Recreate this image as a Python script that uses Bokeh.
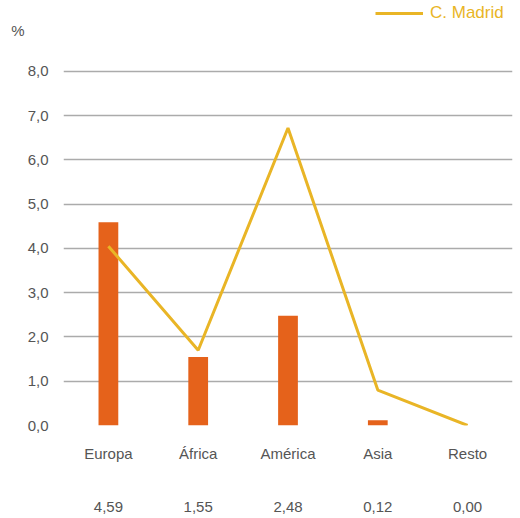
from bokeh.plotting import figure
from bokeh.models import (ColumnDataSource, FactorRange, Range1d, CategoricalAxis, LinearAxis,
                          Legend, LegendItem, FixedTicker)
from bokeh.embed import file_html
from bokeh.resources import INLINE

categories = ["Europa", "África", "América", "Asia", "Resto"]
nacionalidad = [4.59, 1.55, 2.48, 0.12, 0.00]
c_madrid = [4.05, 1.70, 6.72, 0.80, 0.00]
y_ticks = [0, 1, 2, 3, 4, 5, 6, 7, 8]
y_tick_labels = ["0,0", "1,0", "2,0", "3,0", "4,0", "5,0", "6,0", "7,0", "8,0"]
unit_label = "%"
value_labels = [f"{v:.2f}".replace(".", ",") for v in nacionalidad]

FONT = "Liberation Sans"
TEXT = "#555555"
BAR = "#E5621B"
LINE = "#E9B526"

src = ColumnDataSource(dict(cat=categories, nac=nacionalidad, mad=c_madrid))

p = figure(width=520, height=518, output_backend="svg", toolbar_location=None,
           x_range=FactorRange(*categories, range_padding=0),
           y_range=Range1d(0, 9.6),
           min_border_left=63, min_border_right=8, min_border_top=0, min_border_bottom=93)
p.outline_line_color = None
p.xgrid.grid_line_color = None
p.ygrid.grid_line_color = "#ababab"
p.ygrid.grid_line_width = 1.3
p.ygrid.ticker = FixedTicker(ticks=y_ticks)

p.vbar(x="cat", top="nac", width=0.22, source=src, fill_color=BAR, line_color=None)
r_line = p.line(x="cat", y="mad", source=src, color=LINE, line_width=3)

# y axis
p.yaxis.ticker = FixedTicker(ticks=y_ticks)
p.yaxis.major_label_overrides = {t: l for t, l in zip(y_ticks, y_tick_labels)}
p.yaxis.axis_line_color = None
p.yaxis.major_tick_line_color = None
p.yaxis.minor_tick_line_color = None
p.yaxis.major_tick_out = 0
p.yaxis.minor_tick_out = 0
p.yaxis.major_label_standoff = 15
p.yaxis.major_label_text_font = FONT
p.yaxis.major_label_text_font_size = "15px"
p.yaxis.major_label_text_color = TEXT

# unit label "%" as a second left axis with a single tick
uax = LinearAxis(ticker=FixedTicker(ticks=[8.93]), major_label_overrides={8.93: unit_label},
                 axis_line_color=None, major_tick_line_color=None, minor_tick_line_color=None,
                 major_tick_out=0, minor_tick_out=0, major_label_standoff=0,
                 major_label_text_font=FONT, major_label_text_font_size="15px",
                 major_label_text_color=TEXT)
p.add_layout(uax, "left")

# x axis (categories)
p.xaxis.axis_line_color = None
p.xaxis.major_tick_line_color = None
p.xaxis.major_tick_out = 0
p.xaxis.major_label_standoff = 19
p.xaxis.major_label_text_font = FONT
p.xaxis.major_label_text_font_size = "15px"
p.xaxis.major_label_text_color = TEXT

# values row
p.extra_x_ranges = {"vals": FactorRange(*value_labels, range_padding=0)}
vax = CategoricalAxis(x_range_name="vals", axis_line_color=None,
                      major_tick_line_color=None, major_tick_out=0,
                      major_label_standoff=37,
                      major_label_text_font=FONT, major_label_text_font_size="15px",
                      major_label_text_color=TEXT)
p.add_layout(vax, "below")

legend = Legend(items=[LegendItem(label="C. Madrid", renderers=[r_line])],
                location=(312, 402), glyph_width=48, label_text_color=LINE,
                label_text_font=FONT, label_text_font_size="17px",
                border_line_color=None, background_fill_alpha=0, padding=0, margin=0,
                label_standoff=7)
p.add_layout(legend)

open("out.html", "w").write(file_html(p, INLINE))
